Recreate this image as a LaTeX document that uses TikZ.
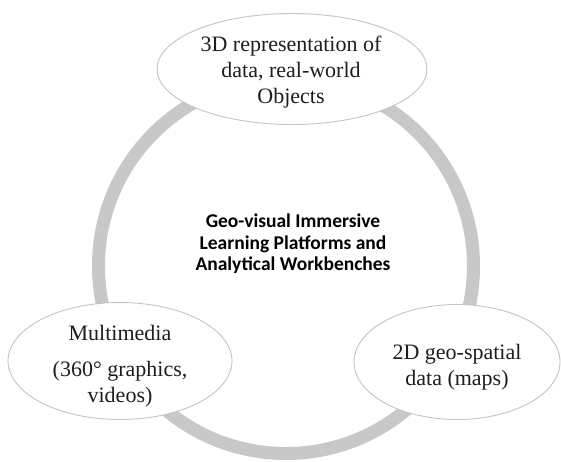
\documentclass[tikz,border=0pt]{standalone}
\usepackage{fontspec}
\setmainfont{Liberation Serif}
\newfontfamily\calib{Carlito}
\usetikzlibrary{shapes.geometric}
\definecolor{ringgray}{HTML}{C8C8C8}
\definecolor{edgegray}{HTML}{C4C4C4}
\definecolor{txt}{HTML}{1E1E1E}
\begin{document}
\begin{tikzpicture}[x=1pt,y=-1pt,
  bubble/.style={ellipse, draw=edgegray, line width=0.9pt, fill=white, inner sep=0pt},
  btext/.style={font=\fontsize{22}{26}\selectfont, text=txt, align=center},
  ctext/.style={font=\calib\bfseries\fontsize{19.5}{21.5}\selectfont, align=center}]
\useasboundingbox (0,0) rectangle (561,461);
\fill[white] (0,0) rectangle (561,461);
\coordinate (c) at (286,266);
\draw[ringgray, line width=13pt] (c) circle (187.5);
\node[bubble, minimum width=270pt, minimum height=111pt] (top) at (292,69) {};
\node[bubble, minimum width=224pt, minimum height=117pt] (left) at (120,361) {};
\node[bubble, minimum width=206pt, minimum height=115pt] (right) at (457,362) {};
\node[btext] (ttop) at (291,72) {3D representation of\\data, real-world\\Objects};
\node[btext] (tleft) at (120,366) {Multimedia\\[10pt](360° graphics,\\videos)};
\node[btext] (tright) at (457,367) {2D geo-spatial\\data (maps)};
\node[ctext] (center) at (293,244) {Geo-visual Immersive\\Learning Platforms and\\Analytical Workbenches};
\end{tikzpicture}
\end{document}
